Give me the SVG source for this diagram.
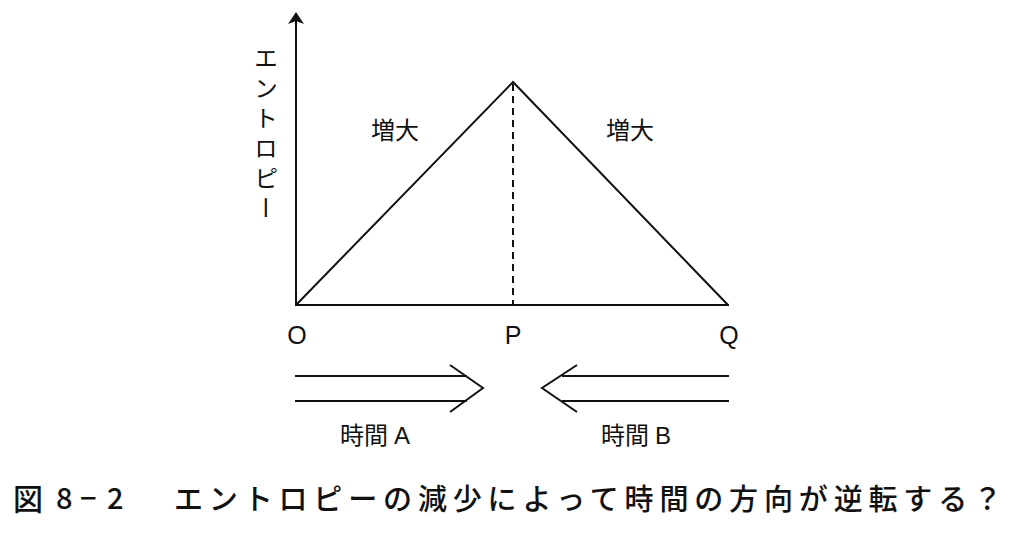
<svg xmlns="http://www.w3.org/2000/svg" width="1015" height="535" viewBox="0 0 1015 535">
<style>
.ln{stroke:#111;stroke-width:2;fill:none}
.t{font-family:"Noto Sans CJK JP","Liberation Sans",sans-serif;fill:#111}
.l{font-family:"Liberation Sans","Noto Sans CJK JP",sans-serif;fill:#111;font-size:25px}
.cap{font-weight:500}
</style>
<defs>
<marker id="ah" markerWidth="12" markerHeight="16" refX="10" refY="8" orient="auto" markerUnits="userSpaceOnUse">
<path d="M0,0 L12,8 L0,16 L3,8 Z" fill="#111"/>
</marker>
</defs>
<rect width="1015" height="535" fill="#fff"/>
<g id="connectors">
<line class="ln" x1="296" y1="306" x2="296" y2="14" marker-end="url(#ah)"/>
<line class="ln" x1="295" y1="305" x2="729" y2="305"/>
<polyline class="ln" points="296,305 513,82 728,305"/>
<line class="ln" x1="513" y1="84" x2="513" y2="305" stroke-dasharray="7,5"/>
</g>
<g id="axis-label">
<text class="t" x="266" y="46" font-size="24" writing-mode="vertical-rl" letter-spacing="6">エントロピー</text>
</g>
<g id="label-zoudai-left"><text class="t" x="395" y="139" font-size="24" text-anchor="middle">増大</text></g>
<g id="label-zoudai-right"><text class="t" x="630" y="139" font-size="24" text-anchor="middle">増大</text></g>
<g id="label-O"><text class="l" x="297" y="344" text-anchor="middle">O</text></g>
<g id="label-P"><text class="l" x="513" y="344" text-anchor="middle">P</text></g>
<g id="label-Q"><text class="l" x="729" y="344" text-anchor="middle">Q</text></g>
<g id="arrow-A">
<line class="ln" x1="295" y1="376" x2="467" y2="376"/>
<line class="ln" x1="295" y1="401" x2="467" y2="401"/>
<polyline class="ln" points="450,365 483,388 450,412"/>
<text class="t" x="340" y="444" font-size="24">時間<tspan font-family="Liberation Sans" dx="6">A</tspan></text>
</g>
<g id="arrow-B">
<line class="ln" x1="562" y1="376" x2="729" y2="376"/>
<line class="ln" x1="562" y1="401" x2="729" y2="401"/>
<polyline class="ln" points="577,365 542,388 577,412"/>
<text class="t" x="601" y="444" font-size="24">時間<tspan font-family="Liberation Sans" dx="6">B</tspan></text>
</g>
<g id="caption">
<text class="t cap" x="13" y="510" font-size="30">図</text>
<text class="t cap" x="56" y="509" font-size="29" font-family="Liberation Sans">8</text>
<text class="t cap" x="80" y="509" font-size="29">−</text>
<text class="t cap" x="107" y="509" font-size="29" font-family="Liberation Sans">2</text>
<text class="t cap" x="174" y="510" font-size="29" textLength="828" lengthAdjust="spacing">エントロピーの減少によって時間の方向が逆転する？</text>
</g>
</svg>
